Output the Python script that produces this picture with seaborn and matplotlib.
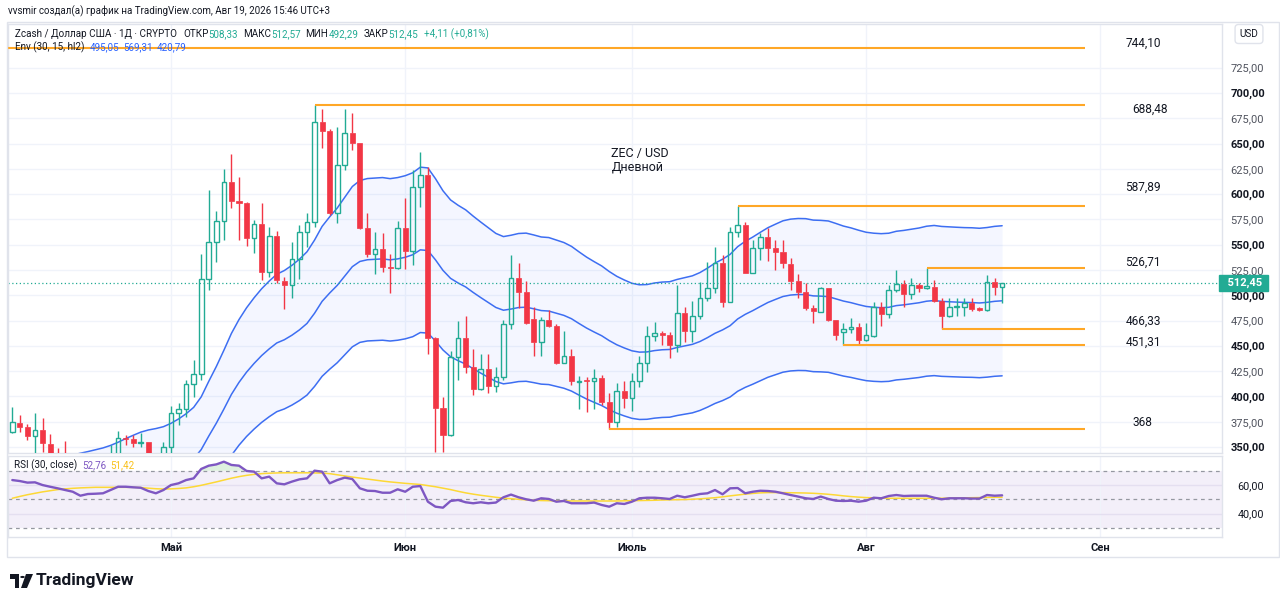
import numpy as np
import pandas as pd
import matplotlib
matplotlib.use("Agg")
import matplotlib.pyplot as plt
import matplotlib.transforms as mtransforms
from matplotlib.patches import Rectangle, Circle, Polygon
import seaborn as sns

# ---------------- data ----------------
start_date = "2026-04-10"
opens = [365, 374, 370, 361, 367, 353, 341, 338, 331, 326,
         318, 322, 324, 326, 333, 359.2, 357.9, 354.3, 354.6, 341,
         338, 350.3, 383.3, 387.3, 412, 421.9, 515.8, 553, 573.5, 612.3,
         593.5, 591, 556.3, 570.2, 523.3, 559, 514.1, 510.2, 535.6, 562.9,
         572.2, 671.6, 662.7, 581, 628.8, 660.7, 650.3, 566.8, 540.5, 545.8,
         528.3, 526.7, 566.8, 543.8, 606.8, 618.9, 458.1, 388.3, 361.9, 439.3,
         458.1, 429.5, 407.4, 426.8, 410.6, 419.5, 471.3, 516.8, 503.6, 476.3,
         454.1, 475.6, 469.6, 432.8, 440.3, 414.6, 416.2, 415.3, 417.9, 394.2,
         374.4, 405.7, 398.7, 415.6, 432.8, 459.7, 462.4, 460.7, 450.9, 482.2,
         464.7, 479.8, 497.6, 506.9, 532.2, 493.8, 562.3, 569.5, 522.4, 546.4,
         557.4, 547, 542.5, 530.9, 514.1, 503.6, 487.1, 483.8, 506.9, 475.6,
         464, 466.7, 469, 455.8, 460.1, 488.8, 481.2, 505.2, 510.9, 501,
         510.2, 506.9, 508.5, 494.6, 479.8, 488.8, 488.8, 492.1, 487.1, 485.5,
         512.8, 508.33]
highs = [390, 382, 373, 384, 379, 363, 349, 356, 338, 332,
         328, 330, 334, 352, 366, 361.9, 361.9, 363.5, 354.6, 343,
         355.3, 390.5, 393.3, 416.2, 436, 540.5, 604, 583.3, 624.6, 639.7,
         617.3, 592.5, 574.4, 591, 567.8, 563.6, 518.4, 553, 569.5, 581,
         688.48, 683.9, 664, 666.7, 683.9, 679.9, 651, 581, 562.3, 561.3,
         540.5, 573, 595.9, 623.9, 642, 627.1, 459.1, 399.7, 445.2, 474.9,
         479.5, 446.6, 441.9, 441.9, 428.8, 475.6, 539.8, 532.2, 514.5, 488.1,
         478.8, 485.5, 471.6, 464.7, 446.9, 420.2, 419.5, 427.1, 421.2, 403.1,
         413, 415.3, 422.9, 440, 469.9, 473.9, 464.7, 464, 510.2, 488.8,
         494.5, 512.9, 533.2, 548, 539.8, 567.8, 587.89, 572.5, 554.7, 561.3,
         566.2, 554.7, 554.7, 536.5, 520.8, 511.8, 490.4, 508.5, 507.5, 475.6,
         472.3, 477.3, 472.3, 472.3, 493.7, 493.7, 510.2, 525.1, 515.1, 516.8,
         511.9, 526.71, 515.1, 497, 497.6, 497, 497.6, 497, 488.5, 520,
         516.8, 512.57]
lows = [364, 365, 357, 338, 345, 336, 332, 326, 318, 312,
        314, 318, 320, 322, 330, 351.9, 349.7, 349.7, 337, 333,
        335, 343, 371.8, 380, 399.7, 416.2, 505, 533.2, 554.7, 586,
        554.7, 548.7, 541.5, 515.1, 517.8, 511.9, 486.1, 497, 515.8, 548,
        567.8, 645.3, 579, 571.8, 623.9, 643.6, 566, 538.2, 520.8, 523.3,
        502.6, 525.6, 525.7, 529.9, 587.6, 441.9, 345.4, 345.4, 360.9, 416.2,
        422.9, 401.4, 406.4, 403.1, 404.7, 416.2, 466.4, 487.1, 471.6, 440,
        440, 469, 432, 432.8, 411.3, 387.3, 384.9, 387.3, 391.5, 368,
        370, 388.3, 386, 409.6, 424.5, 455.1, 450.9, 437.7, 444.2, 454.1,
        454.1, 476.6, 494.5, 502, 488.8, 493.2, 558, 522, 521.8, 535,
        534.2, 525.1, 527.3, 505.2, 497, 485.5, 472.3, 483.2, 474.6, 455.8,
        451.31, 462.4, 451.6, 454.8, 459.1, 469.9, 477.3, 503, 488.1, 496.3,
        503, 505.9, 493.8, 466.33, 478.8, 479.8, 479.8, 484.5, 484, 484.5,
        500.3, 492.29]
closes = [375, 370, 361, 367, 354, 341, 338, 331, 326, 318,
          322, 324, 326, 333, 358.6, 357.9, 354.3, 355.3, 341, 338,
          349.7, 383.3, 387.3, 412, 421.9, 515.8, 553, 573.5, 612.3, 593.5,
          591, 556.3, 570.2, 523.3, 559, 515.1, 510.2, 535.6, 562.9, 572.8,
          671.6, 662.7, 581, 628.8, 660.7, 650.3, 566.8, 540.5, 545.8, 528.3,
          526.7, 566.8, 543.8, 606.8, 618.9, 458.1, 388.3, 361.9, 439.3, 458.1,
          429.5, 407.4, 426.8, 410.6, 418.9, 471.3, 516.8, 503.6, 472.3, 454.1,
          475.6, 469.6, 432.8, 440.3, 415.3, 415.6, 415.3, 417.9, 394.2, 375,
          405.4, 398.7, 415.6, 432.8, 459.7, 462.4, 460.7, 450.9, 482.2, 464.7,
          479.8, 497.6, 506.9, 532.2, 493.8, 562.3, 569.5, 522.4, 546.4, 557.4,
          547, 542.5, 531.6, 514.4, 503.6, 487.1, 484.5, 506.9, 475.6, 460.7,
          466.4, 469, 455.8, 460.7, 488.8, 481.2, 505.2, 510.9, 501, 510.2,
          506.9, 508.9, 494.6, 479.8, 488.8, 489.4, 492.1, 486.5, 485.5, 512.8,
          508.34, 512.45]
rsi_values = [63.5, 62.8, 61.7, 61.9, 60.0, 58.8, 57.7, 56.5, 55.3, 52.5,
              53.7, 53.9, 54.2, 56.5, 58.8, 58.8, 58.4, 58.1, 55.8, 54.2,
              56.5, 60.0, 61.2, 63.5, 64.7, 71.3, 73.6, 74.5, 76.4, 74.1,
              73.6, 69.9, 69.4, 64.7, 65.9, 61.2, 60.5, 62.4, 64.0, 64.7,
              70.1, 69.4, 61.2, 63.5, 65.2, 64.2, 57.7, 56.0, 55.8, 54.6,
              54.6, 57.0, 55.3, 58.8, 59.3, 48.3, 44.8, 44.1, 48.8, 49.5,
              47.9, 47.2, 47.9, 47.2, 47.7, 51.4, 53.3, 51.4, 50.0, 49.0,
              50.7, 50.2, 48.3, 48.8, 47.2, 47.2, 47.2, 47.7, 46.0, 44.8,
              47.2, 46.7, 48.3, 50.7, 51.1, 51.1, 50.7, 50.2, 52.5, 51.4,
              52.5, 53.7, 54.2, 56.5, 53.5, 57.7, 57.9, 54.2, 55.3, 56.0,
              55.8, 55.3, 54.2, 53.0, 51.9, 50.7, 50.2, 51.9, 50.2, 49.0,
              48.8, 49.0, 48.3, 49.0, 51.1, 50.7, 52.3, 53.0, 52.3, 52.5,
              52.5, 52.5, 51.1, 50.0, 50.7, 50.7, 50.7, 50.5, 50.5, 53.0,
              52.5, 52.76]
rsi_ma_values = [50.7, 52.0, 53.2, 54.2, 55.2, 56.0, 56.8, 57.3, 57.7, 58.0,
                 58.2, 58.4, 58.4, 58.4, 58.4, 58.4, 58.4, 58.2, 57.8, 57.4,
                 57.2, 57.3, 57.6, 58.0, 58.8, 59.8, 61.0, 62.2, 63.5, 64.8,
                 65.9, 66.8, 67.5, 68.0, 68.3, 68.5, 68.6, 68.6, 68.6, 68.6,
                 68.5, 68.4, 68.0, 67.2, 66.4, 65.6, 64.9, 64.2, 63.5, 62.8,
                 62.2, 61.7, 61.2, 60.8, 60.4, 59.6, 58.8, 57.8, 56.8, 55.6,
                 54.5, 53.6, 52.8, 52.1, 51.4, 50.8, 50.4, 50.0, 49.6, 49.3,
                 49.1, 49.0, 48.9, 48.9, 48.8, 48.8, 48.8, 48.8, 48.8, 48.8,
                 48.8, 48.9, 49.0, 49.1, 49.2, 49.3, 49.5, 49.6, 49.7, 49.8,
                 50.0, 50.3, 50.7, 51.1, 51.7, 52.4, 53.0, 53.6, 54.1, 54.5,
                 54.7, 54.7, 54.7, 54.6, 54.5, 54.4, 54.2, 53.9, 53.5, 53.0,
                 52.4, 51.9, 51.5, 51.2, 51.0, 50.8, 50.7, 50.7, 50.7, 50.7,
                 50.7, 50.7, 50.7, 50.7, 50.8, 50.9, 51.0, 51.1, 51.2, 51.3,
                 51.4, 51.42]
env_length = 30
env_percent = 15
env_basis_start = 252.0          # envelope basis level going into the first visible candle
env_header = ["495,05", "569,31", "420,79"]
level_values = [744.10, 688.48, 587.89, 526.71, 466.33, 451.31, 368.0]
level_labels = ["744,10", "688,48", "587,89", "526,71", "466,33", "451,31", "368"]
level_start_dates = ["2026-04-09", "2026-05-20", "2026-07-15", "2026-08-09",
                     "2026-08-11", "2026-07-29", "2026-06-28"]
level_end_date = "2026-08-30"
month_dates = ["2026-05-01", "2026-06-01", "2026-07-01", "2026-08-01", "2026-09-01"]
month_labels = ["Май", "Июн", "Июль", "Авг", "Сен"]
price_ticks = list(range(350, 726, 25))
rsi_ticks = [40, 60]

# ---------------- setup ----------------
sns.set_theme(style="white")
plt.rcParams["font.family"] = ["Roboto", "DejaVu Sans"]

W, H = 1280, 605
UP = "#22ab94"
DN = "#f23645"
BLUE = "#3d6ef2"
ORANGE = "#ffa726"
DARK = "#131722"
GRID = "#f0f3fa"

t0 = pd.Timestamp(start_date)
def didx(d):
    return (pd.Timestamp(d) - t0).days

df = pd.DataFrame({"o": opens, "h": highs, "l": lows, "c": closes,
                   "rsi": rsi_values, "rsima": rsi_ma_values})
df["i"] = np.arange(len(df))
hl2 = (df["h"] + df["l"]) / 2
basis = pd.concat([pd.Series([env_basis_start]), hl2], ignore_index=True) \
    .ewm(span=env_length, adjust=False).mean().iloc[1:].reset_index(drop=True)
df["basis"] = basis
df["upper"] = basis * (1 + env_percent / 100)
df["lower"] = basis * (1 - env_percent / 100)

fig = plt.figure(figsize=(W / 100, H / 100), dpi=100)
fig.patch.set_facecolor("white")

def fx(px):
    return px / W
def fy(py):
    return 1 - py / H

L_PX, R_PX = 8, 1222
ax = fig.add_axes([fx(L_PX), fy(453), (R_PX - L_PX) / W, (453 - 24) / H])
axr = fig.add_axes([fx(L_PX), fy(537), (R_PX - L_PX) / W, (537 - 456) / H], sharex=ax)

xlim = (-0.57, 160.1)
month_idx = [didx(d) for d in month_dates]

# ---------------- price pane ----------------
ax.set_facecolor("white")
for v in price_ticks:
    ax.axhline(v, color=GRID, lw=1, zorder=0)
for m in month_idx:
    ax.axvline(m, color=GRID, lw=1, zorder=0)

ax.fill_between(df["i"], df["lower"], df["upper"], color="#2962ff", alpha=0.05, lw=0, zorder=1)
for col in ["upper", "basis", "lower"]:
    sns.lineplot(data=df, x="i", y=col, ax=ax, color=BLUE, lw=1.1, zorder=2, legend=False)

o = df["o"].values; h = df["h"].values; l = df["l"].values; c = df["c"].values
x = df["i"].values
up = c >= o
colors = np.where(up, UP, DN)
blo = np.minimum(o, c); bhi = np.maximum(o, c)
bh = np.maximum(bhi - blo, 0.9)
ax.vlines(x, l, blo, colors=colors, lw=1.0, zorder=3)
ax.vlines(x, bhi, h, colors=colors, lw=1.0, zorder=3)
ax.bar(x[~up], bh[~up], bottom=blo[~up], width=0.68, color=DN, edgecolor=DN, lw=0.5, zorder=4)
ax.bar(x[up], bh[up], bottom=blo[up], width=0.62, fill=False, edgecolor=UP, lw=1.0, zorder=4)

# level lines
end_i = didx(level_end_date)
for val, sd in zip(level_values, level_start_dates):
    ax.hlines(val, didx(sd), end_i, color=ORANGE, lw=1.5, zorder=5)
label_dy = [-5, 5, -19, -6, -8, -2, -6]   # pixel offsets of the user labels
label_dx = [0, 7, 0, 0, 0, 0, 7]
for val, txt, dy, dx in zip(level_values, level_labels, label_dy, label_dx):
    ax.annotate(txt, xy=(147.3, val), xytext=(dx * 0.72, -dy * 0.72), textcoords="offset points",
                fontsize=8.6, color=DARK, ha="left", va="center", zorder=6)

# current price dotted line + tag
last = c[-1]
ax.axhline(last, color=UP, lw=0.9, ls=(0, (1, 2)), zorder=2)
trans = mtransforms.blended_transform_factory(ax.transAxes, ax.transData)
ax.text(1.0, last, "  " + f"{last:.2f}".replace(".", ",") + " ", transform=trans,
        ha="left", va="center", fontsize=8, color="white", fontweight="bold",
        bbox=dict(boxstyle="square,pad=0.25", fc=UP, ec=UP), zorder=10, clip_on=False)

ax.text(79.3, 646.5, "ZEC / USD\nДневной", fontsize=9, color=DARK, ha="left", va="top",
        linespacing=1.05, zorder=6)

ax.set_xlim(*xlim)
ax.set_ylim(344.1, 768.2)
ax.yaxis.tick_right()
ax.set_yticks(price_ticks)
ax.set_yticklabels([f"{v:.2f}".replace(".", ",") for v in price_ticks])
for lab, v in zip(ax.get_yticklabels(), price_ticks):
    if v % 50 == 0:
        lab.set_fontweight("bold"); lab.set_color(DARK)
    else:
        lab.set_color("#50535e")
ax.tick_params(axis="y", length=0, pad=6, labelsize=8)
ax.tick_params(axis="x", length=0, labelbottom=False)
ax.set_xlabel(""); ax.set_ylabel("")
for s in ax.spines.values():
    s.set_color("#e0e3eb"); s.set_linewidth(1)

# ---------------- RSI pane ----------------
axr.set_facecolor("white")
axr.axhspan(30, 70, color="#7e57c2", alpha=0.09, lw=0, zorder=0)
for m in month_idx:
    axr.axvline(m, color=GRID, lw=1, zorder=0)
for v in [60, 40]:
    axr.axhline(v, color="#e4dff0", lw=1, zorder=1)
for v in [70, 50, 30]:
    axr.axhline(v, color="#9598a1", lw=0.9, ls=(0, (3, 3)), zorder=1)
axr.fill_between(df["i"], 70, df["rsi"], where=df["rsi"] > 70, interpolate=True,
                 color="#4caf50", alpha=0.18, lw=0, zorder=2)
sns.lineplot(data=df, x="i", y="rsima", ax=axr, color="#fdd835", lw=1.1, zorder=3, legend=False)
sns.lineplot(data=df, x="i", y="rsi", ax=axr, color="#7e57c2", lw=1.7, zorder=4, legend=False)
axr.set_ylim(23.5, 80.4)
axr.yaxis.tick_right()
axr.set_yticks(rsi_ticks)
axr.set_yticklabels([f"{v:.2f}".replace(".", ",") for v in rsi_ticks])
axr.tick_params(axis="y", length=0, pad=11, labelsize=7.8, labelcolor=DARK)
axr.set_xticks(month_idx)
axr.set_xticklabels(month_labels)
axr.tick_params(axis="x", length=0, pad=4, labelsize=8, labelcolor=DARK)
for lab in axr.get_xticklabels():
    lab.set_fontweight("bold")
axr.set_xlabel(""); axr.set_ylabel("")
axr.set_xlim(*xlim)
for s in axr.spines.values():
    s.set_color("#e0e3eb"); s.set_linewidth(1)

# ---------------- outer frame and texts ----------------
fig.patches.append(Rectangle((fx(7), fy(557)), fx(1279) - fx(7), fy(22) - fy(557),
                             transform=fig.transFigure, fill=False, ec="#e0e3eb", lw=1))

fig.text(fx(8), fy(11), "vvsmir создал(а) график на TradingView.com, Авг 19, 2026 15:46 UTC+3",
         fontsize=7.0, color=DARK, ha="left", va="center")

renderer = fig.canvas.get_renderer()
def seq(parts, x_px, y_px, size):
    xx = x_px
    for txt, color, gap in parts:
        t = fig.text(fx(xx), fy(y_px), txt, fontsize=size, color=color, ha="left", va="center")
        bb = t.get_window_extent(renderer)
        xx = bb.x1 + gap

fmt = lambda v: f"{v:.2f}".replace(".", ",")
chg = c[-1] - c[-2]
pct = chg / c[-2] * 100
seq([("Zcash / Доллар США · 1Д · CRYPTO", DARK, 6),
     ("ОТКР", DARK, 0), (fmt(o[-1]), UP, 5),
     ("МАКС", DARK, 0), (fmt(h[-1]), UP, 5),
     ("МИН", DARK, 0), (fmt(l[-1]), UP, 5),
     ("ЗАКР", DARK, 0), (fmt(c[-1]), UP, 6),
     (f"+{fmt(chg)} (+{fmt(pct)}%)", UP, 0)], 15, 34, 7.1)
seq([("Env (30, 15, hl2)", DARK, 5), (env_header[0], "#2962ff", 4),
     (env_header[1], "#2962ff", 4), (env_header[2], "#2962ff", 0)], 15, 47, 7.1)
seq([("RSI (30, close)", DARK, 5), (fmt(rsi_values[-1]), "#7e57c2", 4),
     (fmt(rsi_ma_values[-1]), "#f9c11b", 0)], 14, 465, 7.1)

fig.text(fx(1249), fy(34), "USD", fontsize=7.2, color=DARK, ha="center", va="center",
         bbox=dict(boxstyle="round,pad=0.45,rounding_size=0.35", fc="white", ec="#e0e3eb"))

# TradingView logo
fig.patches.append(Rectangle((fx(10), fy(579)), fx(19) - fx(10), fy(574) - fy(579),
                             transform=fig.transFigure, fc=DARK, ec="none"))
fig.patches.append(Rectangle((fx(15), fy(588)), fx(19) - fx(15), fy(574) - fy(588),
                             transform=fig.transFigure, fc=DARK, ec="none"))
fig.patches.append(Circle((fx(22.5), fy(577)), 2.3 / W, transform=fig.transFigure, fc=DARK, ec="none"))
fig.patches.append(Polygon([(fx(26), fy(574)), (fx(33), fy(574)), (fx(27), fy(588)), (fx(21), fy(588))],
                           closed=True, transform=fig.transFigure, fc=DARK, ec="none"))
fig.text(fx(36), fy(581), "TradingView", fontsize=12.5, fontweight="bold", color=DARK,
         ha="left", va="center")

fig.savefig("out.png", dpi=100)
